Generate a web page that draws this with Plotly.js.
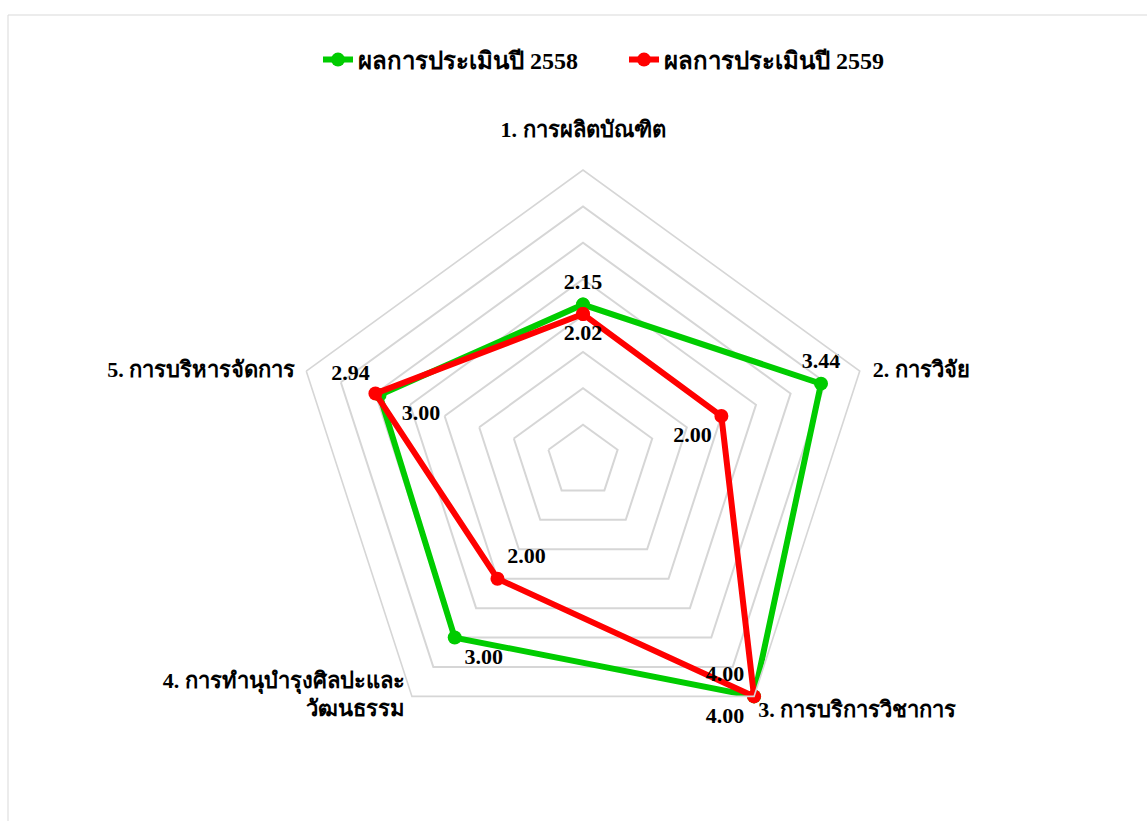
<!DOCTYPE html>
<html>
<head>
<meta charset="utf-8">
<script src="https://cdn.plot.ly/plotly-3.0.1.min.js"></script>
<style>html,body{margin:0;padding:0;background:#fff;}</style>
</head>
<body>
<div id="chart" style="width:1147px;height:821px;"></div>
<script>
const categories = ["1. การผลิตบัณฑิต", "2. การวิจัย", "3. การบริการวิชาการ", "4. การทำนุบำรุงศิลปะและ<br>วัฒนธรรม", "5. การบริหารจัดการ"];
const seriesNames = ["ผลการประเมินปี 2558", "ผลการประเมินปี 2559"];
const values2558 = [2.15, 3.44, 4.00, 3.00, 2.94];
const values2559 = [2.02, 2.00, 4.00, 2.00, 3.00];
const radialMax = 4;

const FONT = "'Liberation Serif', 'Times New Roman', serif";
const close = a => a.concat([a[0]]);
const cats = close(categories);

// label placement (style only)
const pos2558 = ["top center", "top center", "bottom left", "bottom right", "top left", "top center"];
const pos2559 = ["bottom center", "bottom left", "top left", "top right", "bottom right", "bottom center"];
const pad2559 = ["", "", "", "", "\u00a0\u00a0\u00a0", ""];
const catPos = ["top center", "middle right", "bottom right", "middle left", "middle left"];
const catOffset = [43, 19, 5, 10, 16];

const txt = (a, pad) => close(a).map((v, i) => i === a.length ? "" : (pad ? pad[i] : "") + v.toFixed(2));

const dataFont = {family: FONT, size: 22, color: "#000", weight: "bold"};
const traces = [
  {type: "scatterpolar", name: seriesNames[0], r: close(values2558), theta: cats,
   mode: "lines+markers+text", text: txt(values2558), textposition: pos2558,
   textfont: dataFont,
   line: {color: "#00CC00", width: 6}, marker: {color: "#00CC00", size: 14},
   cliponaxis: false},
  {type: "scatterpolar", name: seriesNames[1], r: close(values2559), theta: cats,
   mode: "lines+markers+text", text: txt(values2559, pad2559), textposition: pos2559,
   textfont: dataFont,
   line: {color: "#FF0000", width: 6}, marker: {color: "#FF0000", size: 14},
   cliponaxis: false},
  {type: "scatterpolar", name: "categories", r: categories.map(() => radialMax), theta: categories,
   mode: "markers+text", text: categories, textposition: catPos,
   textfont: {family: FONT, size: 22, color: "#000", weight: "bold"},
   marker: {size: catOffset, opacity: 0, color: "#fff"},
   showlegend: false, hoverinfo: "skip", cliponaxis: false}
];

const W = 1147, H = 821, cx = 583, cy = 461, R = 291;
const layout = {
  width: W, height: H,
  margin: {l: 0, r: 0, t: 0, b: 0},
  paper_bgcolor: "#fff",
  font: {family: FONT, size: 20, color: "#000"},
  showlegend: true,
  legend: {orientation: "h", x: 318 / W, xanchor: "left", y: (H - 60) / H, yanchor: "middle",
           entrywidth: 261, entrywidthmode: "pixels",
           font: {family: FONT, size: 24, color: "#000", weight: "bold"}},
  polar: {
    domain: {x: [(cx - R) / W, (cx + R) / W], y: [(H - cy - R) / H, (H - cy + R) / H]},
    gridshape: "linear",
    bgcolor: "rgba(0,0,0,0)",
    radialaxis: {range: [0, radialMax], dtick: 0.5, showticklabels: false, ticks: "",
                 showline: false, gridcolor: "#d6d6d6", gridwidth: 1.6},
    angularaxis: {direction: "clockwise", rotation: 90, showgrid: false,
                  showline: true, linecolor: "#d6d6d6", linewidth: 1.6,
                  ticks: "", showticklabels: false}
  },
  shapes: [{type: "rect", xref: "paper", yref: "paper",
            x0: 8 / W, x1: 1.02, y0: -0.02, y1: (H - 15) / H,
            line: {color: "#d9d9d9", width: 1}, fillcolor: "rgba(0,0,0,0)"}]
};

Plotly.newPlot("chart", traces, layout, {displayModeBar: false});
</script>
</body>
</html>
